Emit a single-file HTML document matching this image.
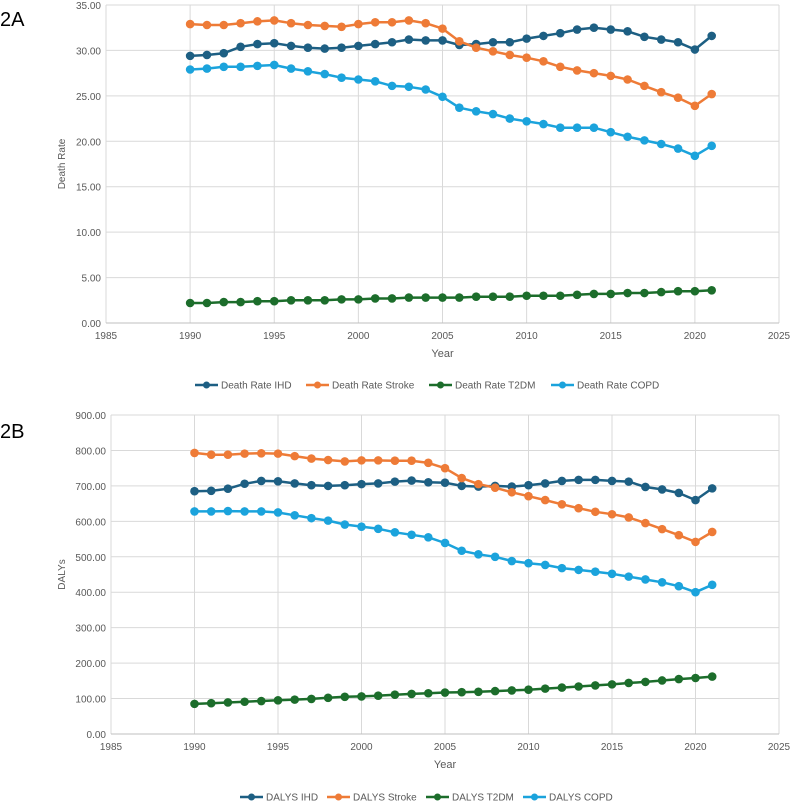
<!DOCTYPE html>
<html><head><meta charset="utf-8"><style>
body{margin:0;background:#fff;width:791px;height:802px;overflow:hidden;font-family:"Liberation Sans",sans-serif}
svg text{font-family:"Liberation Sans",sans-serif;fill:#595959}
</style></head><body>
<svg id="svg" width="791" height="802">
<text x="0" y="26" font-size="20" style="fill:#000">2A</text>
<text x="0" y="438" font-size="20" style="fill:#000">2B</text>
</svg>
<script>
const years=[1990,1991,1992,1993,1994,1995,1996,1997,1998,1999,2000,2001,2002,2003,2004,2005,2006,2007,2008,2009,2010,2011,2012,2013,2014,2015,2016,2017,2018,2019,2020,2021];
const xTicks=[1985,1990,1995,2000,2005,2010,2015,2020,2025];
const yTicksA=[0,5,10,15,20,25,30,35];
const yTicksB=[0,100,200,300,400,500,600,700,800,900];
const drIHD=[29.4,29.5,29.7,30.4,30.7,30.8,30.5,30.3,30.2,30.3,30.5,30.7,30.9,31.2,31.1,31.1,30.6,30.7,30.9,30.9,31.3,31.6,31.9,32.3,32.5,32.3,32.1,31.5,31.2,30.9,30.1,31.6];
const drStroke=[32.9,32.8,32.8,33.0,33.2,33.3,33.0,32.8,32.7,32.6,32.9,33.1,33.1,33.3,33.0,32.4,31.0,30.3,29.9,29.5,29.2,28.8,28.2,27.8,27.5,27.2,26.8,26.1,25.4,24.8,23.9,25.2];
const drT2DM=[2.2,2.2,2.3,2.3,2.4,2.4,2.5,2.5,2.5,2.6,2.6,2.7,2.7,2.8,2.8,2.8,2.8,2.9,2.9,2.9,3.0,3.0,3.0,3.1,3.2,3.2,3.3,3.3,3.4,3.5,3.5,3.6];
const drCOPD=[27.9,28.0,28.2,28.2,28.3,28.4,28.0,27.7,27.4,27.0,26.8,26.6,26.1,26.0,25.7,24.9,23.7,23.3,23.0,22.5,22.2,21.9,21.5,21.5,21.5,21.0,20.5,20.1,19.7,19.2,18.4,19.5];
const dIHD=[685,686,692,706,714,713,707,702,700,702,705,707,712,715,710,709,700,698,700,698,702,707,714,717,717,714,712,697,690,680,660,693];
const dStroke=[793,788,788,791,792,791,784,777,773,769,772,772,771,771,765,750,722,705,695,682,671,660,648,637,627,620,611,595,578,561,542,570];
const dT2DM=[85,87,89,91,93,95,97,99,102,105,106,108,111,113,115,117,118,119,121,123,125,128,131,134,137,140,144,147,151,155,158,162];
const dCOPD=[628,628,629,628,628,625,617,609,602,591,585,579,569,562,555,539,517,507,500,488,482,477,468,463,458,452,444,436,428,417,400,421];
const namesA=["Death Rate IHD","Death Rate Stroke","Death Rate T2DM","Death Rate COPD"];
const namesB=["DALYS IHD","DALYS Stroke","DALYS T2DM","DALYS COPD"];
const colors=["#1d5f83","#ee7b37","#1c6d2b","#1ba3dc"];
const NS="http://www.w3.org/2000/svg";
const svg=document.getElementById('svg');
function mk(tag,attrs,parent){const e=document.createElementNS(NS,tag);for(const k in attrs)e.setAttribute(k,attrs[k]);(parent||svg).appendChild(e);return e;}
function chart(cfg){
  const g=mk('g',{});
  
  
  const X=v=>cfg.x0+(v-1985)/40*(cfg.x1-cfg.x0);
  const Y=v=>cfg.y0-(v/cfg.ymax)*(cfg.y0-cfg.y1);
  xTicks.forEach(t=>{
    const l=mk('line',{x1:X(t),x2:X(t),y1:cfg.y1,y2:cfg.y0,stroke:'#d9d9d9','stroke-width':1},g);
    
    
    const tx=mk('text',{x:X(t),y:cfg.y0+16,'font-size':10,'text-anchor':'middle'},g);
    tx.textContent=t;
    
    
  });
  cfg.yt.forEach(t=>{
    const l=mk('line',{x1:cfg.x0,x2:cfg.x1,y1:Y(t),y2:Y(t),stroke:'#d9d9d9','stroke-width':1},g);
    
    
    const tx=mk('text',{x:cfg.x0-5,y:Y(t)+4,'font-size':10,'text-anchor':'end'},g);
    tx.textContent=t.toFixed(2);
    
    
  });
  const ax=mk('line',{x1:cfg.x0,x2:cfg.x1,y1:cfg.y0,y2:cfg.y0,stroke:'#bfbfbf','stroke-width':1},g);
  
  
  const yt=mk('text',{x:0,y:0,'font-size':10,'text-anchor':'middle',transform:`translate(65,${(cfg.y0+cfg.y1)/2}) rotate(-90)`},g);
  yt.textContent=cfg.ytitle;
  
  
  const xt=mk('text',{x:(cfg.x0+cfg.x1)/2-0,y:cfg.y0+34,'font-size':11,'text-anchor':'middle'},g);
  xt.textContent='Year';
  
  
  cfg.series.forEach((s,i)=>{
    const pts=s.map((v,j)=>X(years[j]).toFixed(1)+','+Y(v).toFixed(1)).join(' ');
    const pl=mk('polyline',{points:pts,fill:'none',stroke:colors[i],'stroke-width':2.5,'stroke-linejoin':'round'},g);
    
    
    s.forEach((v,j)=>{
      const c=mk('circle',{cx:X(years[j]),cy:Y(v),r:4.3,fill:colors[i]},g);
      
      
    });
    const lx=cfg.legX[i],ly=cfg.legY;
    const lg=mk('g',{},g);
    
    
    mk('line',{x1:lx,x2:lx+23,y1:ly,y2:ly,stroke:colors[i],'stroke-width':2.5},lg);
    mk('circle',{cx:lx+11.5,cy:ly,r:3.5,fill:colors[i]},lg);
    const lt=mk('text',{x:lx+26,y:ly+3.5,'font-size':10},lg);
    lt.textContent=cfg.names[i];
  });
}
chart({id:'chart-2a',x0:106,x1:779,y0:323,y1:5,ymax:35,yt:yTicksA,ytitle:'Death Rate',series:[drIHD,drStroke,drT2DM,drCOPD],names:namesA,legX:[195,306,429,551],legY:385});
chart({id:'chart-2b',x0:111,x1:779,y0:734,y1:415,ymax:900,yt:yTicksB,ytitle:'DALYs',series:[dIHD,dStroke,dT2DM,dCOPD],names:namesB,legX:[240,327,426,523],legY:797});
</script>
</body></html>
